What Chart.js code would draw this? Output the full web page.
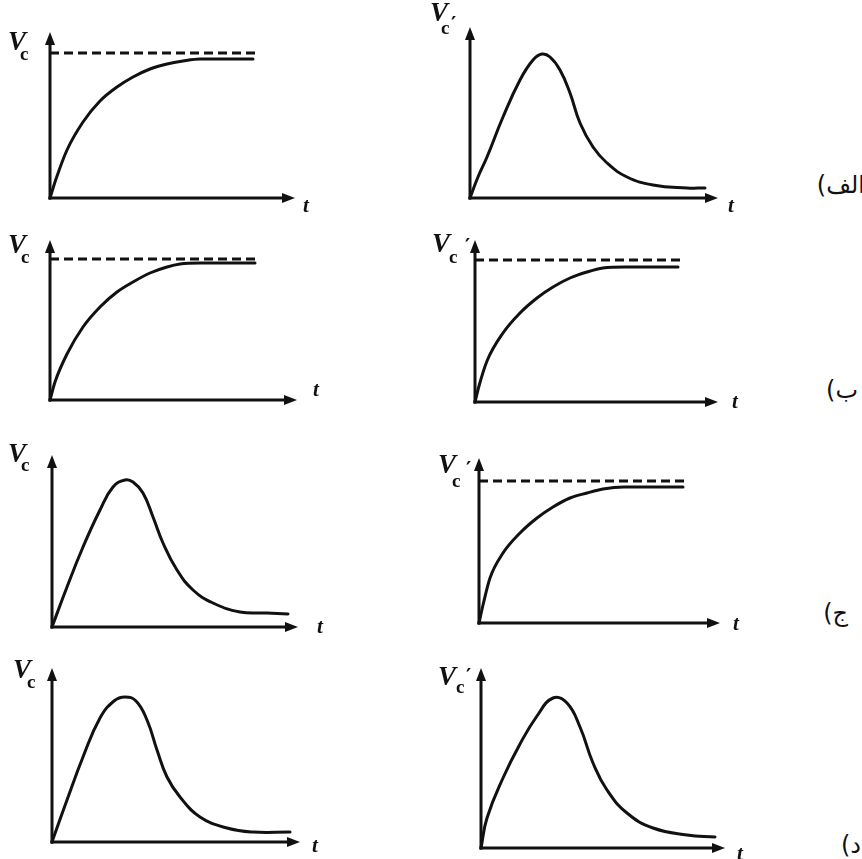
<!DOCTYPE html>
<html><head><meta charset="utf-8">
<script src="https://cdn.jsdelivr.net/npm/chart.js@4"></script>
<style>
html,body{margin:0;padding:0;background:#fff;width:862px;height:859px;overflow:hidden;position:relative}
.pnl{position:absolute}
.lbl{position:absolute;font-family:'DejaVu Sans',sans-serif;font-size:24px;line-height:26px;color:#111;white-space:nowrap}
</style></head>
<body>
<div id="wrap"></div>
<div class="lbl" dir="ltr" style="right:-3px;top:172px">(الف</div>
<div class="lbl" dir="ltr" style="right:4px;top:377px">(ب</div>
<div class="lbl" dir="ltr" style="right:14px;top:600px">(ج</div>
<div class="lbl" dir="ltr" style="right:1px;top:832px">(د</div>
<script>
// ---- data (t offset, value), per panel ----
const p1T = [0,6,17,33,50,67,83,100,117,133,150,170,203];
const p1V = [0,19,48,76,97,111,121,129,134,137,139,139,139];
const p1Asym = [145, 208];   // dashed level, dashed end

const p2T = [0,8,17,33,50,63,72,80,90,100,110,123,137,157,183,217,235];
const p2V = [0,21,41,81,118,138,144,141,128,105,75,51,35,21,13,10,10];

const p3T = [0,5,17,33,50,67,83,100,117,130,150,205];
const p3V = [0,18,46,73,93,108,118,127,133,136,137,137];
const p3Asym = [141, 208];

const p4T = [0,4,12,28,45,62,78,95,112,128,150,203];
const p4V = [0,16,41,69,89,104,115,124,130,134,135,135];
const p4Asym = [142, 208];

const p5T = [0,15,31,48,61,73,81,91,101,111,125,141,161,188,215,236];
const p5V = [0,40,80,117,140,147,145,134,110,84,57,37,24,15,14,13];

const p6T = [0,4,11,24,41,58,74,91,108,124,145,204];
const p6V = [0,18,45,70,90,105,116,125,130,134,136,136];
const p6Asym = [142, 209];

const p7T = [0,15,31,48,62,73,84,95,105,115,128,148,175,201,238];
const p7V = [0,42,85,124,141,145,141,122,92,65,45,25,14,10,10];

const p8T = [0,6,22,39,56,72,86,99,112,126,146,172,206,234];
const p8V = [0,30,70,104,132,150,145,121,85,58,35,20,13,11];

const yLabels = ['V','c'];
const primeLabel = '\u2032';
const xLabel = 't';

// ---- layout (origin x, origin y, axis top y, axis tip x) and label offsets ----
const panels = [
  {t:p1T, v:p1V, asym:p1Asym, peak:false, g:[50,198,32,295],  L:{vx:-42,vy:18,cx:-30,cy:28,tx:8,ty:14}},
  {t:p2T, v:p2V, asym:null,   peak:true,  g:[470,198,27,718], L:{vx:-40,vy:-6,cx:-29,cy:7,px:-19,py:-11,tx:10,ty:14}},
  {t:p3T, v:p3V, asym:p3Asym, peak:false, g:[50,400,240,297], L:{vx:-42,vy:13,cx:-29,cy:23,tx:16,ty:-4}},
  {t:p4T, v:p4V, asym:p4Asym, peak:false, g:[475,402,240,718],L:{vx:-43,vy:12,cx:-26,cy:23,px:-10,py:-2,tx:14,ty:6}},
  {t:p5T, v:p5V, asym:null,   peak:true,  g:[52,627,455,298], L:{vx:-44,vy:7,cx:-31,cy:16,tx:19,ty:6}},
  {t:p6T, v:p6V, asym:p6Asym, peak:false, g:[479,623,458,720],L:{vx:-41,vy:15,cx:-27,cy:29,px:-13,py:3,tx:13,ty:7}},
  {t:p7T, v:p7V, asym:null,   peak:true,  g:[52,842,668,300], L:{vx:-39,vy:10,cx:-25,cy:20,tx:12,ty:10}},
  {t:p8T, v:p8V, asym:null,   peak:true,  g:[481,848,668,725],L:{vx:-43,vy:17,cx:-25,cy:25,px:-15,py:0,tx:12,ty:12}}
];

const INK = '#111';
const PAD = {left:50, top:35, right:32, bottom:22};

const axesPlugin = {
  id:'axes',
  afterDatasetsDraw(chart, args, opts){
    const {ctx, scales:{x, y}} = chart;
    const x0 = x.getPixelForValue(0), y0 = y.getPixelForValue(0);
    const xT = x.getPixelForValue(x.max), yT = y.getPixelForValue(y.max);
    ctx.save();
    ctx.strokeStyle = INK; ctx.fillStyle = INK; ctx.lineWidth = 3;
    ctx.beginPath(); ctx.moveTo(x0, y0+1.5); ctx.lineTo(x0, yT+10); ctx.stroke();
    ctx.beginPath(); ctx.moveTo(x0-1.5, y0); ctx.lineTo(xT-10, y0); ctx.stroke();
    ctx.beginPath(); ctx.moveTo(x0, yT); ctx.lineTo(x0-5, yT+13); ctx.lineTo(x0+5, yT+13); ctx.closePath(); ctx.fill();
    ctx.beginPath(); ctx.moveTo(xT, y0); ctx.lineTo(xT-13, y0-5); ctx.lineTo(xT-13, y0+5); ctx.closePath(); ctx.fill();
    const L = opts.lab;
    ctx.textAlign = 'left'; ctx.textBaseline = 'alphabetic';
    ctx.font = 'bold italic 27px "Liberation Serif"';
    ctx.fillText(yLabels[0], x0+L.vx, yT+L.vy);
    ctx.font = 'bold 19px "Liberation Serif"';
    ctx.fillText(yLabels[1], x0+L.cx, yT+L.cy);
    if (L.px !== undefined) {
      ctx.textBaseline = 'top';
      ctx.font = 'bold 20px "DejaVu Serif"';
      ctx.fillText(primeLabel, x0+L.px, yT+L.py);
      ctx.textBaseline = 'alphabetic';
    }
    ctx.font = 'bold italic 21px "Liberation Serif"';
    ctx.fillText(xLabel, xT+L.tx, y0+L.ty);
    ctx.restore();
  }
};

const wrap = document.getElementById('wrap');
panels.forEach((p) => {
  const [ox, oy, top, tip] = p.g;
  const W = tip - ox, H = oy - top;
  const div = document.createElement('div');
  div.className = 'pnl';
  div.style.left = (ox - PAD.left) + 'px';
  div.style.top = (top - PAD.top) + 'px';
  const cv = document.createElement('canvas');
  cv.width = W + PAD.left + PAD.right;
  cv.height = H + PAD.top + PAD.bottom;
  cv.style.width = cv.width + 'px'; cv.style.height = cv.height + 'px';
  div.appendChild(cv); wrap.appendChild(div);
  const curve = {
    data: p.t.map((t, k) => ({x:t, y:p.v[k]})),
    borderColor: INK, borderWidth: 3, pointRadius: 0, fill: false, clip: false,
    borderJoinStyle: 'round', borderCapStyle: 'round'
  };
  if (p.peak) { curve.tension = 0.45; } else { curve.cubicInterpolationMode = 'monotone'; }
  const datasets = [curve];
  if (p.asym) {
    datasets.push({
      data: [{x:0, y:p.asym[0]}, {x:p.asym[1], y:p.asym[0]}],
      borderColor: INK, borderWidth: 3, borderDash: [9,5], pointRadius: 0, fill: false, clip: false
    });
  }
  new Chart(cv, {
    type: 'line',
    data: {datasets},
    options: {
      responsive: false, animation: false, devicePixelRatio: 1,
      layout: {padding: PAD},
      scales: {
        x: {type:'linear', min:0, max:W, display:false},
        y: {type:'linear', min:0, max:H, display:false}
      },
      plugins: {legend:{display:false}, tooltip:{enabled:false}, axes:{lab:p.L}}
    },
    plugins: [axesPlugin]
  });
});
</script>
</body></html>
